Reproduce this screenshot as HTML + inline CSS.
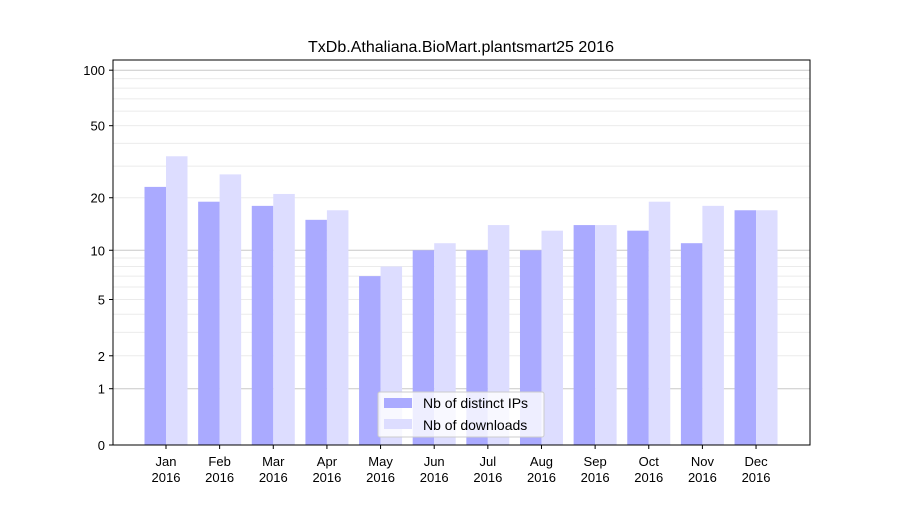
<!DOCTYPE html>
<html><head><meta charset="utf-8"><style>
body{margin:0;background:#fff;font-family:"Liberation Sans","DejaVu Sans",sans-serif}
</style></head><body>
<svg id="chart" width="900" height="500" xmlns="http://www.w3.org/2000/svg">
<rect width="900" height="500" fill="#fff"/>
<text x="461" y="52" text-anchor="middle" font-size="16" fill="#000">TxDb.Athaliana.BioMart.plantsmart25 2016</text>
<g id="grid"></g><g id="bars"></g><g id="axes"></g>
<g>
<rect x="378" y="392" width="166" height="45" fill="#fff" fill-opacity="0.8" stroke="#ccc" rx="2"/>
<rect x="384" y="398" width="28" height="10" fill="#aaaaff"/>
<text x="423" y="408" font-size="14">Nb of distinct IPs</text>
<rect x="384" y="419" width="28" height="10" fill="#ddddff"/>
<text x="423" y="430" font-size="14">Nb of downloads</text>
</g>
</svg>
<script>
const months=["Jan","Feb","Mar","Apr","May","Jun","Jul","Aug","Sep","Oct","Nov","Dec"];
const ips=[23,19,18,15,7,10,10,10,14,13,11,17];
const downloads=[34,27,21,17,8,11,14,13,14,19,18,17];
const yTicks=[0,1,2,5,10,20,50,100];
const NS="http://www.w3.org/2000/svg";
const L=113,R=810,T=60,B=445;
function y(v){return B-187*Math.log10(1+v);}
function x(i){return 166+i*53.64;}
function mk(tag,attrs,parent){const e=document.createElementNS(NS,tag);for(const k in attrs)e.setAttribute(k,attrs[k]);parent.appendChild(e);return e;}
const grid=document.getElementById('grid'),bars=document.getElementById('bars'),axes=document.getElementById('axes');
const minor=[2,3,4,5,6,7,8,9,20,30,40,50,60,70,80,90];
minor.forEach(v=>{const l=mk('line',{x1:L,x2:R,y1:y(v),y2:y(v),stroke:'#ebebeb','stroke-width':1},grid);

});
[1,10,100].forEach(v=>{const l=mk('line',{x1:L,x2:R,y1:y(v),y2:y(v),stroke:'#c8c8c8','stroke-width':1},grid);

});
const bw=21.5;
months.forEach((m,i)=>{
 const a=mk('rect',{x:x(i)-bw,y:y(ips[i]),width:bw,height:B-y(ips[i]),fill:'#aaaaff'},bars);
 
 
 const b=mk('rect',{x:x(i),y:y(downloads[i]),width:bw,height:B-y(downloads[i]),fill:'#ddddff'},bars);
 
 
 mk('line',{x1:x(i),x2:x(i),y1:B,y2:B+4,stroke:'#000'},axes);
 const t=mk('text',{x:x(i),y:B+21,'text-anchor':'middle','font-size':13},axes);
 t.textContent=m;
 
 
 const t2=mk('text',{x:x(i),y:B+37,'text-anchor':'middle','font-size':13},axes);
 t2.textContent='2016';
 
 
});
yTicks.forEach(v=>{
 mk('line',{x1:L-4,x2:L,y1:y(v),y2:y(v),stroke:'#000'},axes);
 const t=mk('text',{x:L-8,y:y(v)+5,'text-anchor':'end','font-size':13},axes);
 t.textContent=v;
 
 
});
const f=mk('rect',{x:L,y:T,width:R-L,height:B-T,fill:'none',stroke:'#000','stroke-width':1},axes);


</script>
</body></html>
